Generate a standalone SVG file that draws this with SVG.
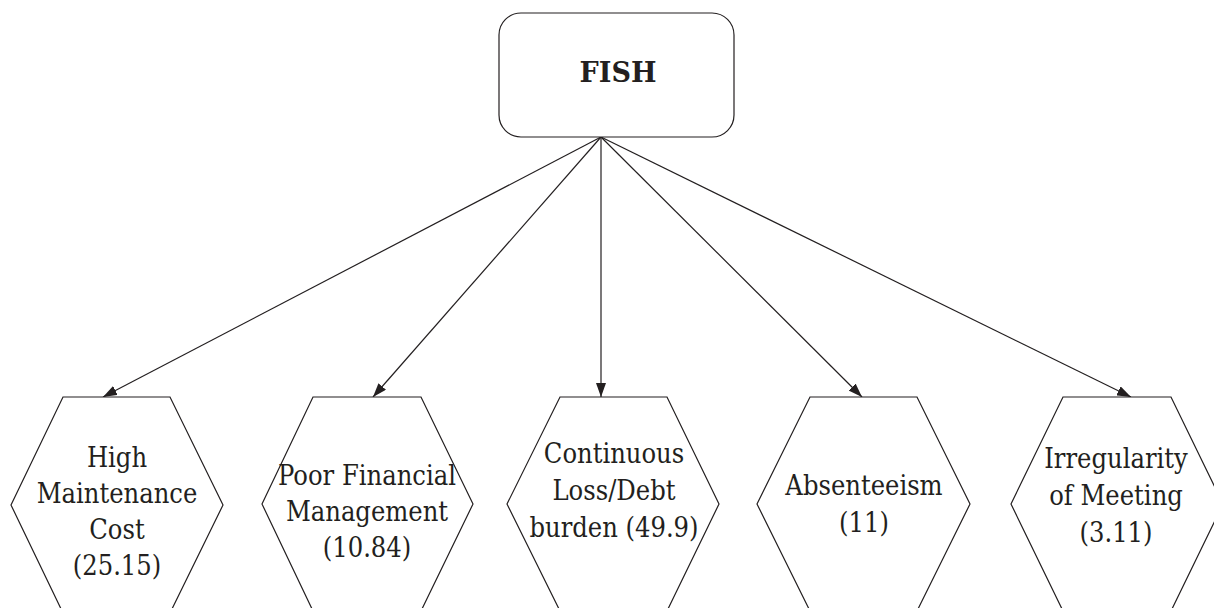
<svg xmlns="http://www.w3.org/2000/svg" width="1214" height="608" viewBox="0 0 1214 608">
<style>
.box{fill:#fff;stroke:#231f20;stroke-width:1.2}
.hex{fill:#fff;stroke:#231f20;stroke-width:1.2}
.lbl{font-family:'DejaVu Serif Condensed','DejaVu Serif',serif;font-stretch:condensed;font-size:27px;fill:#231f20;text-anchor:middle}
.title{font-family:'DejaVu Serif',serif;font-size:27px;font-weight:bold;fill:#231f20;text-anchor:middle}
.conn{stroke:#231f20;stroke-width:1.2;fill:none;marker-end:url(#arr)}
</style>
<defs>
<marker id="arr" viewBox="0 0 14 10" refX="14" refY="5" markerWidth="14" markerHeight="10" markerUnits="userSpaceOnUse" orient="auto">
<path d="M0,0 L14,5 L0,10 Z" fill="#231f20"/>
</marker>
</defs>
<rect width="1214" height="608" fill="#fff"/>
<g id="connectors">
<line class="conn" x1="601" y1="137" x2="103" y2="397"/>
<line class="conn" x1="601" y1="137" x2="373" y2="397"/>
<line class="conn" x1="601" y1="137" x2="601" y2="397"/>
<line class="conn" x1="601" y1="137" x2="862" y2="397"/>
<line class="conn" x1="601" y1="137" x2="1131" y2="397"/>
</g>
<g id="fish">
<rect class="box" x="499" y="13" width="235" height="124" rx="22" ry="22"/>
<text class="title" x="618" y="82">FISH</text>
</g>
<g id="hex1">
<polygon class="hex" points="63,397 170,397 223,505 170,613 63,613 11,505"/>
<text class="lbl" x="117" y="467">High</text>
<text class="lbl" x="117" y="503">Maintenance</text>
<text class="lbl" x="117" y="539">Cost</text>
<text class="lbl" x="117" y="575">(25.15)</text>
</g>
<g id="hex2">
<polygon class="hex" points="313,397 421,397 473,504 421,611 313,611 262,504"/>
<text class="lbl" x="367" y="485">Poor Financial</text>
<text class="lbl" x="367" y="521">Management</text>
<text class="lbl" x="367" y="557">(10.84)</text>
</g>
<g id="hex3">
<polygon class="hex" points="560,397 667,397 719,504 667,611 560,611 507,504"/>
<text class="lbl" x="614" y="463">Continuous</text>
<text class="lbl" x="614" y="500">Loss/Debt</text>
<text class="lbl" x="614" y="537">burden (49.9)</text>
</g>
<g id="hex4">
<polygon class="hex" points="810,397 917,397 970,504 917,611 810,611 757,504"/>
<text class="lbl" x="864" y="495">Absenteeism</text>
<text class="lbl" x="864" y="532">(11)</text>
</g>
<g id="hex5">
<polygon class="hex" points="1063,397 1171,397 1223,504 1171,611 1063,611 1011,504"/>
<text class="lbl" x="1116" y="468">Irregularity</text>
<text class="lbl" x="1116" y="505">of Meeting</text>
<text class="lbl" x="1116" y="542">(3.11)</text>
</g>
</svg>
